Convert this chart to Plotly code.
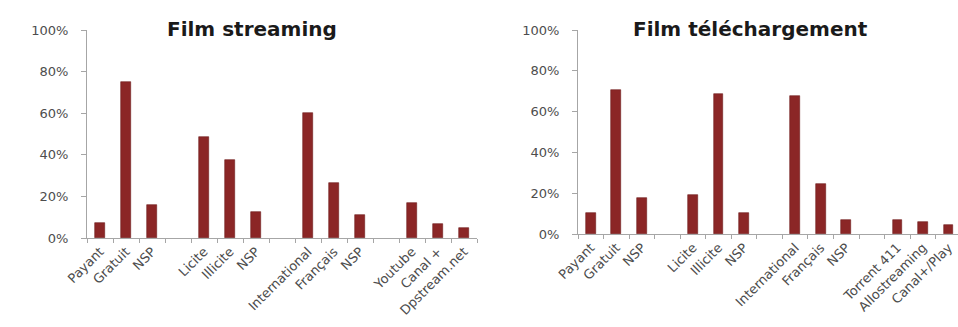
import plotly.graph_objects as go

W, H = 958, 327

# ---- data ----
slots = [0, 1, 2, 4, 5, 6, 8, 9, 10, 12, 13, 14]
labels_stream = ["Payant", "Gratuit", "NSP", "Licite", "Illicite", "NSP",
                 "International", "Français", "NSP", "Youtube", "Canal +", "Dpstream.net"]
values_stream = [0.07, 0.75, 0.16, 0.485, 0.375, 0.125, 0.60, 0.265, 0.11, 0.17, 0.065, 0.05]

labels_dl = ["Payant", "Gratuit", "NSP", "Licite", "Illicite", "NSP",
             "International", "Français", "NSP", "Torrent 411", "Allostreaming", "Canal+/Play"]
values_dl = [0.105, 0.705, 0.175, 0.19, 0.685, 0.105, 0.675, 0.245, 0.07, 0.07, 0.06, 0.045]

titles = ["Film streaming", "Film téléchargement"]

BAR = "#8B2626"
AX = "#a6a6a6"
TXT = "#4d4d4d"
FONT = "DejaVu Sans"

fig = go.Figure()
fig.add_trace(go.Bar(x=slots, y=values_stream, width=0.38, marker=dict(color=BAR, line=dict(color="#6e1b1b", width=0.6)),
                     xaxis="x", yaxis="y", showlegend=False))
fig.add_trace(go.Bar(x=slots, y=values_dl, width=0.38, marker=dict(color=BAR, line=dict(color="#6e1b1b", width=0.6)),
                     xaxis="x2", yaxis="y2", showlegend=False))

def xax(domain, rng, labels):
    return dict(domain=domain, range=rng, tickmode="array", tickvals=slots, ticktext=labels,
                tickangle=-45, ticks="", showline=True, linecolor=AX, linewidth=1, automargin=False,
                ticklabeloverflow="allow",
                showgrid=False, zeroline=False, tickfont=dict(family=FONT, size=13, color=TXT),
                minor=dict(ticks="outside", tickmode="linear", tick0=-0.5, dtick=1, ticklen=4, tickcolor=AX),
                fixedrange=True)

def yax(domain, anchor):
    return dict(domain=domain, anchor=anchor, range=[0, 1], dtick=0.2, tick0=0, tickformat=".0%",
                ticks="outside", ticklen=5, tickcolor=AX, showline=True, linecolor=AX, linewidth=1,
                showgrid=False, zeroline=False, ticklabelstandoff=10, automargin=False,
                tickfont=dict(family=FONT, size=13, color=TXT))

s2 = 25.55
fig.update_layout(
    width=W, height=H, margin=dict(l=0, r=0, t=0, b=0, autoexpand=False),
    paper_bgcolor="white", plot_bgcolor="white", bargap=0,
    xaxis=dict(**xax([87 / W, 477 / W], [-0.5, 14.5], labels_stream), anchor="y"),
    yaxis=yax([(H - 238) / H, (H - 30) / H], "x"),
    xaxis2=dict(**xax([578 / W, 1.0], [-0.5, -0.5 + (W - 578) / s2], labels_dl), anchor="y2"),
    yaxis2=yax([(H - 234) / H, (H - 30) / H], "x2"),
    annotations=[
        dict(text="<b>%s</b>" % titles[0], x=252 / W, y=(H - 29) / H, xref="paper", yref="paper",
             xanchor="center", yanchor="middle", showarrow=False,
             font=dict(family=FONT, size=20, color="#1a1a1a")),
        dict(text="<b>%s</b>" % titles[1], x=750 / W, y=(H - 29) / H, xref="paper", yref="paper",
             xanchor="center", yanchor="middle", showarrow=False,
             font=dict(family=FONT, size=20, color="#1a1a1a")),
    ],
)

fig.write_html("out.html")
